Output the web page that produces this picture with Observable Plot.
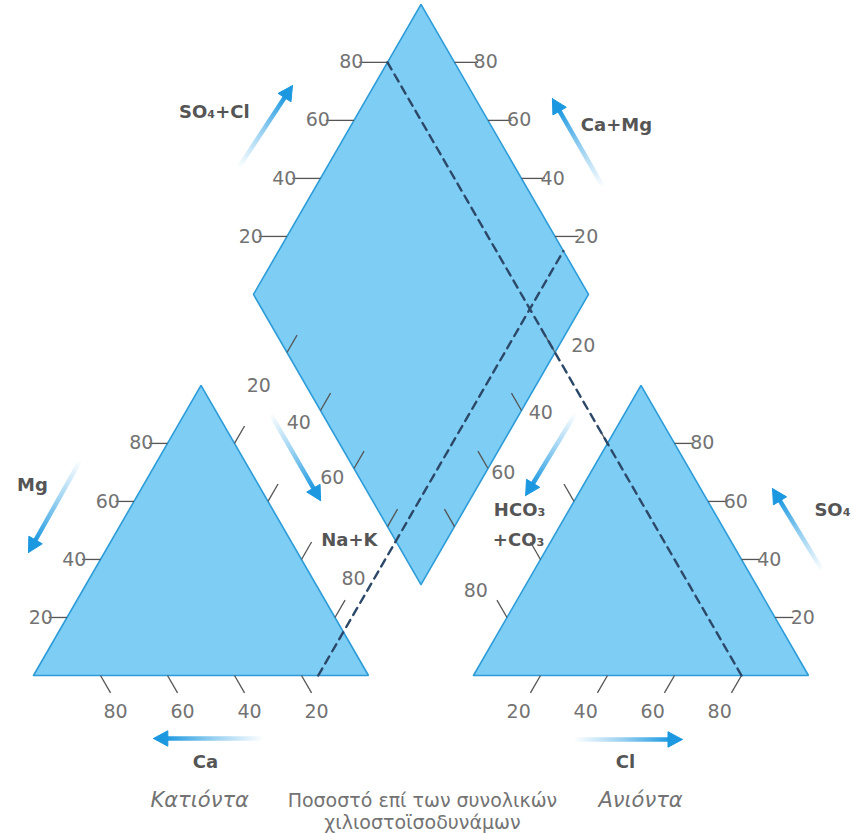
<!DOCTYPE html>
<html><head><meta charset="utf-8">
<script src="https://cdn.jsdelivr.net/npm/d3@7"></script>
<script src="https://cdn.jsdelivr.net/npm/@observablehq/plot@0.6"></script>
<style>body{margin:0;background:#fff}</style>
</head><body><div id="chart"></div>
<script>
// ---------- data ----------
const tickValues = [20, 40, 60, 80];
// sample water (percent of total meq/l)
const cationSample = {Ca: 15, Mg: 0, NaK: 85};
const anionSample = {HCO3: 20, SO4: 0, Cl: 80};
// labels
const cationAxisLabels = ["Mg", "Na+K", "Ca"];
const anionAxisLabels = ["SO₄", "HCO₃", "+CO₃", "Cl"];
const diamondAxisLabels = ["SO₄+Cl", "Ca+Mg"];
const groupLabels = ["Κατιόντα", "Ανιόντα"];
const captionLines = ["Ποσοστό επί των συνολικών", "χιλιοστοϊσοδυνάμων"];

// ---------- layout ----------
const k = 3.35, X0 = 33, Y0 = 675;           // px per unit, origin of cation triangle
const GAP = 31.34;                            // gap between triangles (units)
const S3 = Math.sqrt(3) / 2;
const xDomain = [-X0 / k, (852 - X0) / k];
const yDomain = [(Y0 - 833) / k, Y0 / k];
const px = (dx, dy) => [dx / k, -dy / k];

// ternary / diamond projections
const cat = (Ca, Mg, Na) => [Na + Mg * 0.5, Mg * S3];
const anO = 100 + GAP;
const an = (HCO3, SO4, Cl) => [anO + Cl + SO4 * 0.5, SO4 * S3];
const B = [100 + GAP / 2, GAP * S3];
const dia = (NaK, a) => [B[0] - (100 - NaK) * 0.5 + a * 0.5, B[1] + (100 - NaK) * S3 + a * S3];

const fillBlue = "#7ecdf4", edgeBlue = "#2d9cd8", arrowBlue = "#1b98e0";
const tickColor = "#555", labelColor = "#737373", boldColor = "#555";

// shapes
const shapes = [
  {id: "cat", pts: [cat(100,0,0), cat(0,0,100), cat(0,100,0), cat(100,0,0)]},
  {id: "an", pts: [an(100,0,0), an(0,0,100), an(0,100,0), an(100,0,0)]},
  {id: "dia", pts: [dia(100,0), dia(100,100), dia(0,100), dia(0,0), dia(100,0)]}
].flatMap(s => s.pts.map(([x, y]) => ({id: s.id, x, y})));

// axes specification
const axes = [
  {pos: v => cat(100 - v, v, 0), dir: [-1, 0], len: 5.5, lab: (p) => [p[0] - 7.8, p[1]], anchor: "end"},
  {pos: v => cat(v, 0, 100 - v), dir: [0.5, -S3], len: 6, lab: (p) => [p[0] + 4.5, p[1] - 11], anchor: "middle"},
  {pos: v => cat(0, 100 - v, v), dir: [0.5, S3], len: 6},
  {pos: v => dia(v, 0), dir: [0.5, S3], len: 6},
  {pos: v => dia(0, v), dir: [-1, 0], len: 8.4, lab: (p) => [p[0] - 10.8, p[1]], anchor: "end"},
  {pos: v => dia(100 - v, 100), dir: [1, 0], len: 7, lab: (p) => [p[0] + 9.3, p[1]], anchor: "start"},
  {pos: v => dia(100, 100 - v), dir: [-0.5, S3], len: 6},
  {pos: v => an(v, 100 - v, 0), dir: [-0.5, S3], len: 6},
  {pos: v => an(100 - v, 0, v), dir: [-0.5, -S3], len: 6, lab: (p) => [p[0] - 6.5, p[1] - 11], anchor: "middle"},
  {pos: v => an(0, v, 100 - v), dir: [1, 0], len: 5.5, lab: (p) => [p[0] + 8.3, p[1]], anchor: "start"}
];
const ticks = axes.flatMap(a => tickValues.map(v => {
  const p = a.pos(v);
  return {x1: p[0], y1: p[1], x2: p[0] + a.dir[0] * a.len, y2: p[1] + a.dir[1] * a.len};
}));
const tickLabels = axes.filter(a => a.lab).flatMap(a => tickValues.map(v => {
  const [x, y] = a.lab(a.pos(v));
  return {x, y, text: String(v), anchor: a.anchor};
}));
// strip labels between triangles and diamond
const leftOff = [[-2, -12.5], [4.5, -33.5], [4.5, -36.5], [-7.75, 6.5]];
const rightOff = [[2, -52.5], [-7, -43.5], [-11, -41.5], [-5, 18.5]];
tickValues.forEach((v, i) => {
  const a = cat(0, 100 - v, v), b = dia(v, 0), o = px(...leftOff[i]);
  tickLabels.push({x: (a[0] + b[0]) / 2 + o[0], y: (a[1] + b[1]) / 2 + o[1], text: String(v), anchor: "middle"});
  const c = an(v, 100 - v, 0), d = dia(100, 100 - v), o2 = px(...rightOff[i]);
  tickLabels.push({x: (c[0] + d[0]) / 2 + o2[0], y: (c[1] + d[1]) / 2 + o2[1], text: String(v), anchor: "middle"});
});

// sample projection lines
const dashLines = [
  {id: 1, p: cat(cationSample.Ca, cationSample.Mg, cationSample.NaK)},
  {id: 1, p: dia(cationSample.NaK, 100)},
  {id: 2, p: dia(0, anionSample.SO4 + anionSample.Cl)},
  {id: 2, p: an(anionSample.HCO3, anionSample.SO4, anionSample.Cl)}
].map(d => ({id: d.id, x: d.p[0], y: d.p[1]}));

// direction arrows (tail -> head, plot units)
const arrows = [
  {x1: 61.2, y1: 151.6, x2: 77.3, y2: 176.1},
  {x1: 170.1, y1: 145.7, x2: 154.9, y2: 172.2},
  {x1: 235.5, y1: 31.3, x2: 220.6, y2: 55.8},
  {x1: 14.0, y1: 64.2, x2: -1.5, y2: 36.7},
  {x1: 70.7, y1: 78.2, x2: 85.7, y2: 52.2},
  {x1: 161.8, y1: 78.2, x2: 146.9, y2: 53.7},
  {x1: 68.7, y1: -18.8, x2: 35.8, y2: -18.8},
  {x1: 161.2, y1: -19.1, x2: 193.7, y2: -19.1}
];
const HL = 4.3, HW = 2.3;
const shafts = arrows.map(a => {
  const L = Math.hypot(a.x2 - a.x1, a.y2 - a.y1), ux = (a.x2 - a.x1) / L, uy = (a.y2 - a.y1) / L;
  return {x1: a.x1, y1: a.y1, x2: a.x2 - ux * HL * 0.8, y2: a.y2 - uy * HL * 0.8, ux, uy};
});
const heads = arrows.flatMap((a, i) => {
  const {ux, uy} = shafts[i];
  const bx = a.x2 - ux * HL, by = a.y2 - uy * HL;
  return [[a.x2, a.y2], [bx - uy * HW, by + ux * HW], [bx + uy * HW, by - ux * HW], [a.x2, a.y2]]
    .map(([x, y]) => ({i, x, y}));
});

// text annotations (plot units)
const boldLabels = [
  {x: 54.0, y: 168.1, text: diamondAxisLabels[0]},
  {x: 174.0, y: 164.2, text: diamondAxisLabels[1]},
  {x: 238.5, y: 49.3, text: anionAxisLabels[0]},
  {x: -0.3, y: 56.7, text: cationAxisLabels[0]},
  {x: 94.3, y: 40.3, text: cationAxisLabels[1]},
  {x: 145.1, y: 49.3, text: anionAxisLabels[1]},
  {x: 144.8, y: 40.3, text: anionAxisLabels[2]},
  {x: 51.3, y: -26.0, text: cationAxisLabels[2]},
  {x: 176.7, y: -26.0, text: anionAxisLabels[3]}
];
const italicLabels = [
  {x: 49.6, y: -37.3, text: groupLabels[0]},
  {x: 181.2, y: -37.3, text: groupLabels[1]}
];
const caption = [
  {x: 116.1, y: -37.3, text: captionLines[0]},
  {x: 116.1, y: -43.9, text: captionLines[1]}
];

const plot = Plot.plot({
  width: 852, height: 833, margin: 0,
  x: {domain: xDomain, axis: null},
  y: {domain: yDomain, axis: null},
  style: {fontFamily: "'DejaVu Sans', sans-serif", background: "#fff"},
  marks: [
    Plot.line(shapes, {x: "x", y: "y", z: "id", fill: fillBlue, stroke: edgeBlue, strokeWidth: 1.6, strokeLinejoin: "miter"}),
    Plot.link(ticks, {x1: "x1", y1: "y1", x2: "x2", y2: "y2", stroke: tickColor, strokeWidth: 1.3}),
    Plot.line(dashLines, {x: "x", y: "y", z: "id", stroke: "#2c4868", strokeWidth: 2.4, strokeDasharray: "8,6"}),
    Plot.text(tickLabels, {x: "x", y: "y", text: "text", textAnchor: "anchor", fill: labelColor, fontSize: 19}),
    ...shafts.map((s, i) => Plot.link([s], {x1: "x1", y1: "y1", x2: "x2", y2: "y2", stroke: `url(#ag${i})`, strokeWidth: 4.5})),
    Plot.line(heads, {x: "x", y: "y", z: "i", fill: arrowBlue, stroke: arrowBlue, strokeWidth: 1}),
    Plot.text(boldLabels, {x: "x", y: "y", text: "text", fill: boldColor, fontSize: 18, fontWeight: "bold"}),
    Plot.text(italicLabels, {x: "x", y: "y", text: "text", fill: labelColor, fontSize: 21, fontStyle: "italic"}),
    Plot.text(caption, {x: "x", y: "y", text: "text", fill: labelColor, fontSize: 19})
  ]
});

// gradients for arrow shafts, positioned through the plot's own scales
const sx = plot.scale("x"), sy = plot.scale("y");
const defs = d3.select(plot).insert("defs", ":first-child");
shafts.forEach((s, i) => {
  const g = defs.append("linearGradient").attr("id", `ag${i}`).attr("gradientUnits", "userSpaceOnUse")
    .attr("x1", sx.apply(s.x1)).attr("y1", sy.apply(s.y1)).attr("x2", sx.apply(s.x2)).attr("y2", sy.apply(s.y2));
  g.append("stop").attr("offset", 0).attr("stop-color", arrowBlue).attr("stop-opacity", 0);
  g.append("stop").attr("offset", 0.5).attr("stop-color", arrowBlue).attr("stop-opacity", 0.45);
  g.append("stop").attr("offset", 1).attr("stop-color", arrowBlue).attr("stop-opacity", 1);
});
document.getElementById("chart").append(plot);
</script>
</body></html>
